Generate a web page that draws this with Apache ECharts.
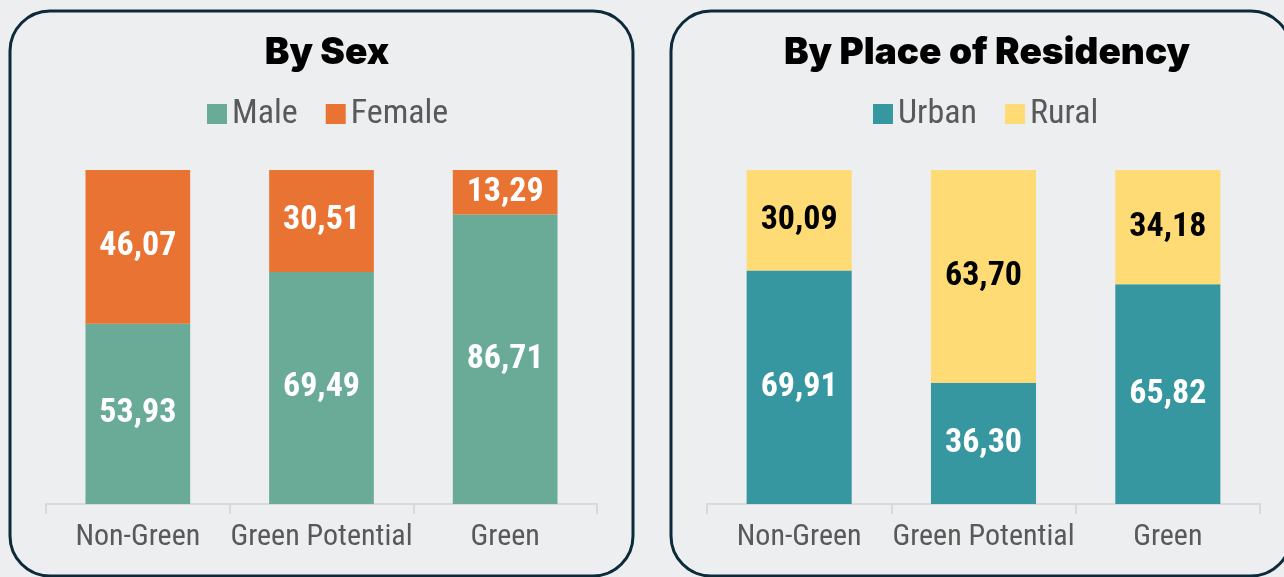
<!DOCTYPE html>
<html>
<head>
<meta charset="utf-8">
<script src="https://cdn.jsdelivr.net/npm/echarts@6/dist/echarts.min.js"></script>
<style>
  html, body { margin: 0; padding: 0; background: #eceef0; }
  #main { width: 1284px; height: 577px; }
</style>
</head>
<body>
<div id="main"></div>
<script>
const categories = ['Non-Green', 'Green Potential', 'Green'];
const male = [53.93, 69.49, 86.71];
const female = [46.07, 30.51, 13.29];
const urban = [69.91, 36.30, 65.82];
const rural = [30.09, 63.70, 34.18];

const narrow = "'Liberation Sans Narrow', 'Roboto Condensed', 'DejaVu Sans Condensed', sans-serif";
const fmt = p => p.value.toFixed(2).replace('.', ',');

function lbl(color) {
    return {
        show: true,
        position: 'inside',
        formatter: fmt,
        color: color,
        fontFamily: narrow,
        fontWeight: 'bold',
        fontSize: 34
    };
}

function xAx(idx) {
    return {
        type: 'category',
        gridIndex: idx,
        data: categories,
        axisLine: { lineStyle: { color: '#d9d9d9', width: 2 } },
        axisTick: { show: true, length: 10, lineStyle: { color: '#d9d9d9', width: 2 } },
        axisLabel: { color: '#595959', fontFamily: narrow, fontSize: 30, margin: 18, interval: 0 }
    };
}

function yAx(idx) {
    return { type: 'value', gridIndex: idx, min: 0, max: 100, show: false, splitLine: { show: false } };
}

let myChart = echarts.init(document.getElementById('main'));

const titleStyle = { fontFamily: 'Inter, Lato, sans-serif', fontWeight: 900, fontSize: 37, color: '#000' };
const legendText = { color: '#595959', fontFamily: narrow, fontSize: 34 };

let option = {
    backgroundColor: '#eceef0',
    animation: false,
    graphic: [
        { type: 'rect', shape: { x: 10, y: 11, width: 623, height: 565, r: 40 },
          style: { fill: 'rgba(0,0,0,0)', stroke: '#0d2a3a', lineWidth: 3 }, z: -1 },
        { type: 'rect', shape: { x: 671, y: 11, width: 620, height: 565, r: 40 },
          style: { fill: 'rgba(0,0,0,0)', stroke: '#0d2a3a', lineWidth: 3 }, z: -1 }
    ],
    title: [
        { text: 'By Sex', left: 322, top: 29, textAlign: 'center', textStyle: titleStyle },
        { text: 'By Place of Residency', left: 982, top: 29, textAlign: 'center', textStyle: titleStyle }
    ],
    legend: [
        { data: ['Male', 'Female'], left: 202, top: 92, itemWidth: 20, itemHeight: 20, itemGap: 28,
          icon: 'rect', textStyle: legendText },
        { data: ['Urban', 'Rural'], left: 868, top: 92, itemWidth: 20, itemHeight: 20, itemGap: 28,
          icon: 'rect', textStyle: legendText }
    ],
    grid: [
        { left: 46, top: 170, width: 551, height: 334 },
        { left: 707, top: 170, width: 553, height: 334 }
    ],
    xAxis: [xAx(0), xAx(1)],
    yAxis: [yAx(0), yAx(1)],
    series: [
        { name: 'Male', type: 'bar', stack: 's', xAxisIndex: 0, yAxisIndex: 0, data: male,
          barWidth: '57%', itemStyle: { color: '#6aab97' }, label: lbl('#fff') },
        { name: 'Female', type: 'bar', stack: 's', xAxisIndex: 0, yAxisIndex: 0, data: female,
          barWidth: '57%', itemStyle: { color: '#e87333' }, label: lbl('#fff') },
        { name: 'Urban', type: 'bar', stack: 'r', xAxisIndex: 1, yAxisIndex: 1, data: urban,
          barWidth: '57%', itemStyle: { color: '#3797a0' }, label: lbl('#fff') },
        { name: 'Rural', type: 'bar', stack: 'r', xAxisIndex: 1, yAxisIndex: 1, data: rural,
          barWidth: '57%', itemStyle: { color: '#fedb75' }, label: lbl('#000') }
    ]
};

myChart.setOption(option);
</script>
</body>
</html>
